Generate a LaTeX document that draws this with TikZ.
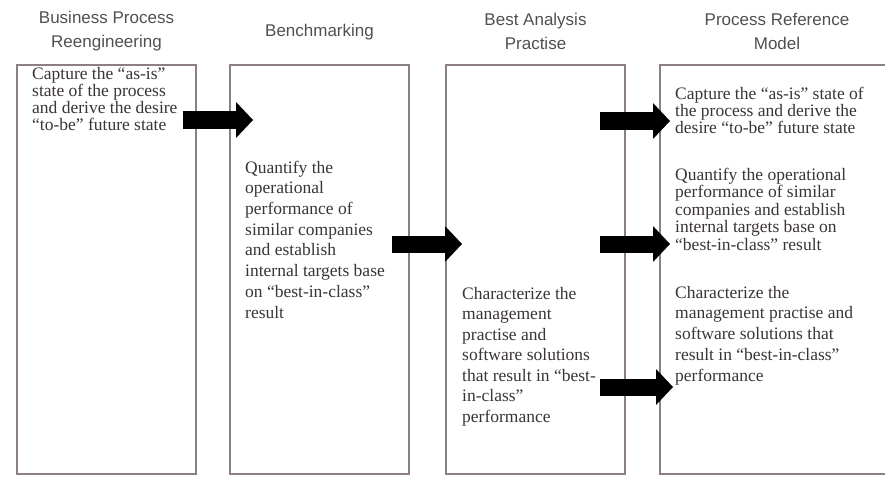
\documentclass[tikz,border=0pt]{standalone}
\usepackage{fontspec}
\setmainfont{Liberation Serif}
\newfontfamily\headfont{Liberation Sans}
\usetikzlibrary{arrows.meta,positioning}
\definecolor{framegray}{RGB}{140,128,128}
\definecolor{inkgray}{RGB}{58,52,52}
\definecolor{headgray}{RGB}{80,80,80}
\tikzset{
  stage/.style={draw=framegray, line width=1.6pt, minimum width=179pt, minimum height=409pt, inner sep=0pt},
  head/.style={font={\headfont\fontsize{17}{24}\selectfont}, text=headgray, align=center, inner sep=0pt},
  desc/.style={font={\fontsize{17.5}{#1}\selectfont\lineskiplimit=-20pt}, text=inkgray, align=left, inner sep=0pt, anchor=base west},
  blk/.style={line width=17pt, -{Triangle[length=17pt,width=36pt,line width=0pt]}}
}

\begin{document}
\begin{tikzpicture}[x=1pt,y=-1pt]
\useasboundingbox (0,0) rectangle (885,476);
%% columns
\node[stage] (bpr) at (106.5,269.5) {};
\node[stage] (bench) at (319.5,269.5) {};
\node[stage] (bap) at (535.5,269.5) {};
\node[stage, minimum width=234pt] (prm) at (777,269.5) {};
%% headings
\node[head] (hbpr) at (106.5,31) {Business Process\\Reengineering};
\node[head] (hbench) at (319.5,32) {Benchmarking};
\node[head] (hbap) at (535.5,31) {Best Analysis\\Practise};
\node[head] (hprm) at (777,31) {Process Reference\\Model};
%% texts (placed by the baseline of their last line)
\node[desc=16.7] (tbpr) at (32,130) {Capture the “as-is”\\state of the process\\and derive the desire\\“to-be” future state};
\node[desc=20.7] (tbench) at (245,318) {Quantify the\\operational\\performance of\\similar companies\\and establish\\internal targets base\\on “best-in-class”\\result};
\node[desc=20.5] (tbap) at (462,422) {Characterize the\\management\\practise and\\software solutions\\that result in “best-\\in-class”\\performance};
\node[desc=16.7] (tprm1) at (675,133) {Capture the “as-is” state of\\the process and derive the\\desire “to-be” future state};
\node[desc=17.5] (tprm2) at (675,250) {Quantify the operational\\performance of similar\\companies and establish\\internal targets base on\\“best-in-class” result};
\node[desc=20.7] (tprm3) at (675,381) {Characterize the\\management practise and\\software solutions that\\result in “best-in-class”\\performance};
%% arrows
\coordinate (a1) at (183,120);
\coordinate (b1) at (253,120);
\coordinate (a2) at (392,244);
\coordinate (b2) at (462,244);
\coordinate (a3) at (600,121);
\coordinate (b3) at (670,121);
\coordinate (a4) at (600,244);
\coordinate (b4) at (670,244);
\coordinate (a5) at (600,387);
\coordinate (b5) at (673,387);
\draw[blk] (a1) -- (b1);
\draw[blk] (a2) -- (b2);
\draw[blk] (a3) -- (b3);
\draw[blk] (a4) -- (b4);
\draw[blk] (a5) -- (b5);
\end{tikzpicture}
\end{document}
